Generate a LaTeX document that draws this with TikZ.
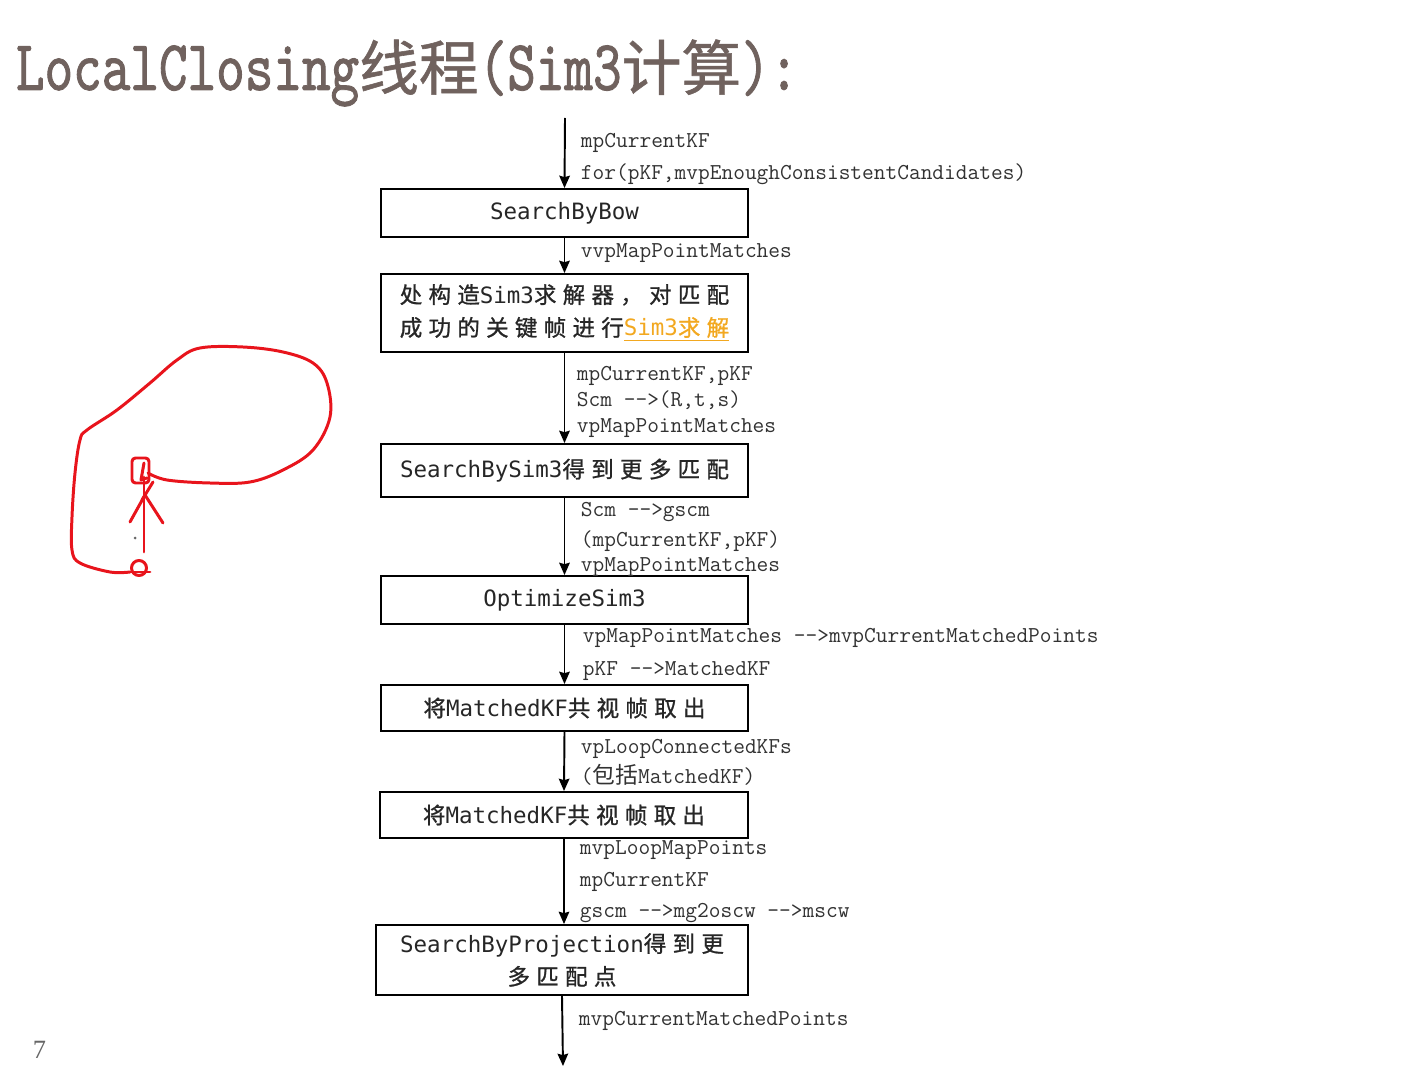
\documentclass[tikz,border=0pt]{standalone}
\usepackage{fontspec}
\setmainfont{Liberation Serif}
\newfontfamily\cjk{Noto Sans CJK SC}
\newfontfamily\boxlatin{DejaVu Sans Mono}
\newfontfamily\boxcjk[LetterSpace=28, FakeBold=1]{Noto Sans CJK SC}
\newfontfamily\titlefont[FakeStretch=0.76, FakeBold=1.2]{lmmono10-regular.otf}
\newfontfamily\titlecjk[FakeBold=1]{Noto Sans CJK SC}
\usetikzlibrary{arrows.meta}
\definecolor{titlegray}{RGB}{112,98,94}
\definecolor{labelgray}{RGB}{50,50,50}
\definecolor{solveorange}{RGB}{242,168,32}
\definecolor{penred}{RGB}{232,20,28}

\begin{document}
\begin{tikzpicture}[>={Stealth[length=7pt, width=6pt, inset=0.8pt]}, x=0.02cm, y=-0.02cm, line width=1.1pt]
\tikzset{
  box/.style={
    draw, rectangle,
    minimum width=7.34cm, minimum height=0.96cm,
    inner sep=0pt, align=center, text=black!85,
    font=\boxlatin\fontsize{12.8}{18.7}\selectfont
  },
  lbl/.style={anchor=base west, inner sep=0pt, text=labelgray,
    font=\ttfamily\fontsize{12.95}{15}\selectfont},
  flow/.style={->, line width=1.1pt},
  pen/.style={draw=penred, line width=1.7pt, line cap=round, line join=round}
}
\useasboundingbox (0,0) rectangle (1411,1071);

% Title
\node[anchor=base west, inner sep=0pt, text=titlegray] (title) at (15,90)
  {\titlefont\fontsize{40.8}{48}\selectfont LocalClosing{\titlecjk\fontsize{34}{40}\selectfont 线程}(Sim3{\titlecjk\fontsize{34}{40}\selectfont 计算}):};

% Boxes
\node[box] (bow)  at (564.5,213) {SearchByBow};
\node[box, minimum height=1.56cm] (solver) at (564.5,313)
  {\begin{tabular}{@{}l@{}}{\boxcjk 处构造}Sim3{\boxcjk 求解器，对匹配}\\
   {\boxcjk 成功的关键帧进行}\textcolor{solveorange}{\underline{Sim3{\boxcjk 求解}}}\end{tabular}};
\node[box, minimum height=1.06cm] (bysim) at (564.5,470.5) {SearchBySim3{\boxcjk 得到更多匹配}};
\node[box] (optim) at (564.5,600) {OptimizeSim3};
\node[box, minimum height=0.92cm] (covis1) at (564.5,708) {{\boxcjk 将}MatchedKF{\boxcjk 共视帧取出}};
\node[box, minimum height=0.92cm, minimum width=7.36cm] (covis2) at (564,815) {{\boxcjk 将}MatchedKF{\boxcjk 共视帧取出}};
\node[box, minimum height=1.4cm, minimum width=7.44cm] (proj) at (562,960)
  {SearchByProjection{\boxcjk 得到更}\\{\boxcjk 多匹配点}};

% Connectors
\coordinate (start) at (565,118);
\coordinate (finish) at (563,1066);
\draw[flow] (start) -- (bow.north);
\draw[flow] (bow.south) -- (solver.north);
\draw[flow] (solver.south) -- (bysim.north);
\draw[flow] (bysim.south) -- (optim.north);
\draw[flow] (optim.south) -- (covis1.north);
\draw[flow] (covis1.south) -- (covis2.north);
\draw[flow] (covis2.south) -- (proj.north -| covis2.south);
\draw[flow] (proj.south) -- (finish);

% Labels
\node[lbl] (l1)  at (580,148)  {mpCurrentKF};
\node[lbl] (l2)  at (580,180)  {for(pKF,mvpEnoughConsistentCandidates)};
\node[lbl] (l3)  at (580,258)  {vvpMapPointMatches};
\node[lbl] (l4)  at (576,381)  {mpCurrentKF,pKF};
\node[lbl] (l5)  at (576,407)  {Scm -{}->(R,t,s)};
\node[lbl] (l6)  at (576,433)  {vpMapPointMatches};
\node[lbl] (l7)  at (580,517)  {Scm -{}->gscm};
\node[lbl] (l8)  at (580,546)  {(mpCurrentKF,pKF)};
\node[lbl] (l9)  at (580,571)  {vpMapPointMatches};
\node[lbl] (l10) at (582,642)  {vpMapPointMatches -{}->mvpCurrentMatchedPoints};
\node[lbl] (l11) at (582,675)  {pKF -{}->MatchedKF};
\node[lbl] (l12) at (580,753)  {vpLoopConnectedKFs};
\node[lbl] (l13) at (580,783)  {({\cjk 包括}MatchedKF)};
\node[lbl] (l14) at (579,854)  {mvpLoopMapPoints};
\node[lbl] (l15) at (579,886)  {mpCurrentKF};
\node[lbl] (l16) at (579,917)  {gscm -{}->mg2oscw -{}->mscw};
\node[lbl] (l17) at (578,1025) {mvpCurrentMatchedPoints};

% Page number
\node[anchor=base west, inner sep=0pt, text=black!60, font=\fontsize{15}{18}\selectfont] (page) at (32,1058) {7};

% Red pen sketch
\draw[pen] plot[smooth, tension=0.6] coordinates {(148,473) (167,480) (210,483) (250,482) (283,470) (313,450) (330,417) (327,383) (313,363) (283,352) (243,347) (200,348) (177,360) (150,383) (117,410) (87,430) (80,440) (75,473) (72,517) (72,550) (80,563) (110,572) (130,572)};
\draw[pen, rounded corners=2pt] (132,458) rectangle (149,483);
\draw[pen] (144,463) -- (141,480) -- (147,478);
\draw[pen] (144,477) -- (144,552);
\draw[pen] (130,522) -- (145,495) -- (163,523);
\draw[pen] (153,482) -- (142,500);
\fill[black!60] (135,538) circle (0.03cm);
\draw[pen] (139,568) circle (0.15cm);
\draw[pen] (127,572) -- (150,572);
\end{tikzpicture}
\end{document}
